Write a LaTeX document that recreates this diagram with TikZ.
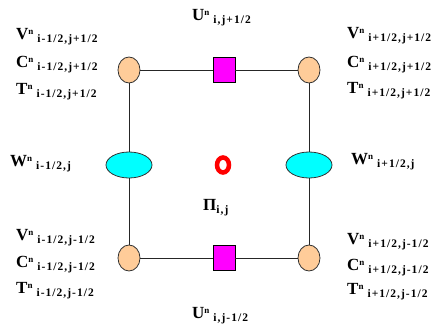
\documentclass[tikz,border=0pt]{standalone}
\usepackage{fontspec}
\setmainfont{Liberation Serif}
\newfontfamily\subfont[LetterSpace=9]{Liberation Serif}
\usetikzlibrary{shapes.geometric}
\newcommand{\qlab}[2]{{\fontsize{17}{17}\selectfont\bfseries #1}\raisebox{5.5pt}{\fontsize{9}{9}\selectfont\bfseries n}\hspace{4pt}\raisebox{-3pt}{\subfont\fontsize{11.5}{11.5}\selectfont\bfseries #2}}
\definecolor{peach}{RGB}{255,204,153}
\definecolor{umag}{RGB}{255,0,255}
\definecolor{wcyan}{RGB}{0,255,255}
\begin{document}
\begin{tikzpicture}[x=1pt,y=-1pt,
  vnode/.style={ellipse,draw=black!80,line width=0.8pt,fill=peach,minimum width=22pt,minimum height=26pt,inner sep=0pt},
  unode/.style={rectangle,draw=black,line width=0.9pt,fill=umag,minimum width=22pt,minimum height=25pt,inner sep=0pt},
  wnode/.style={ellipse,draw=black!80,line width=0.8pt,fill=wcyan,minimum width=46pt,minimum height=26pt,inner sep=0pt},
  lab/.style={inner sep=0pt,align=left},
  edge/.style={line width=0.8pt,draw=black!85}]
\useasboundingbox (0,0) rectangle (439,329);
\node[vnode] (tl) at (129,70) {};
\node[vnode] (tr) at (309,70) {};
\node[vnode] (bl) at (129,258) {};
\node[vnode] (br) at (309,258) {};
\node[unode] (tu) at (224,70) {};
\node[unode] (bu) at (224,258) {};
\node[wnode] (lw) at (129,165) {};
\node[wnode] (rw) at (309,165) {};
\node[ellipse,draw=red,line width=4.5pt,minimum width=12pt,minimum height=15pt,inner sep=0pt] (pi) at (223,165) {};
\draw[edge] (tl) -- (tu) -- (tr) -- (rw) -- (br) -- (bu) -- (bl) -- (lw) -- (tl);
% labels
\node[lab,anchor=west] (tlv) at (16,37) {\qlab{V}{i-1/2,j+1/2}};
\node[lab,anchor=west] (tlc) at (16,65) {\qlab{C}{i-1/2,j+1/2}};
\node[lab,anchor=west] (tlt) at (16,92) {\qlab{T}{i-1/2,j+1/2}};
\node[lab,anchor=west] (trv) at (347,36) {\qlab{V}{i+1/2,j+1/2}};
\node[lab,anchor=west] (trc) at (347,65) {\qlab{C}{i+1/2,j+1/2}};
\node[lab,anchor=west] (trt) at (347,91) {\qlab{T}{i+1/2,j+1/2}};
\node[lab,anchor=west] (blv) at (16,238) {\qlab{V}{i-1/2,j-1/2}};
\node[lab,anchor=west] (blc) at (16,265) {\qlab{C}{i-1/2,j-1/2}};
\node[lab,anchor=west] (blt) at (16,291) {\qlab{T}{i-1/2,j-1/2}};
\node[lab,anchor=west] (brv) at (347,242) {\qlab{V}{i+1/2,j-1/2}};
\node[lab,anchor=west] (brc) at (347,268) {\qlab{C}{i+1/2,j-1/2}};
\node[lab,anchor=west] (brt) at (347,292) {\qlab{T}{i+1/2,j-1/2}};
\node[lab,anchor=west] (lwl) at (10,164) {\qlab{W}{i-1/2,j}};
\node[lab,anchor=west] (rwl) at (351,162) {\qlab{W}{i+1/2,j}};
\node[lab,anchor=west] (tul) at (192,18) {\qlab{U}{i,j+1/2}};
\node[lab,anchor=west] (bul) at (192,316) {\qlab{U}{i,j-1/2}};
\node[lab,anchor=west] (pil) at (203,208) {{\fontsize{17}{17}\selectfont\bfseries Π}\raisebox{-3pt}{\subfont\fontsize{11.5}{11.5}\selectfont\bfseries i,j}};
\end{tikzpicture}
\end{document}
